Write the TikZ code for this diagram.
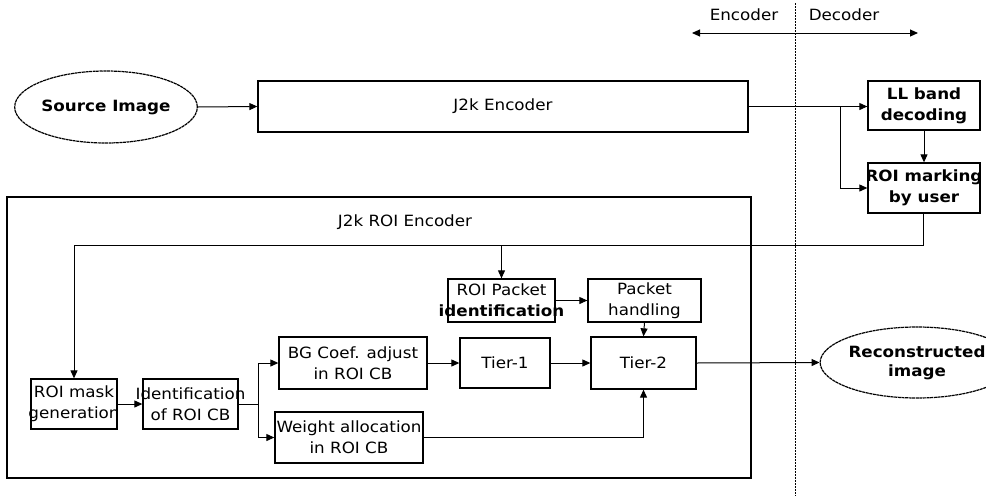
\documentclass[tikz,border=0pt]{standalone}
\usepackage{fontspec}
\setmainfont{DejaVu Sans}[FakeStretch=1.08]
\usetikzlibrary{arrows.meta,shapes.geometric,calc}

\tikzset{
  base/.style={font=\fontsize{15.5}{21}\selectfont, inner sep=0pt},
  blk/.style={base, draw, line width=1.3pt, minimum width=#1},
  oval/.style={base, ellipse, draw, line width=1.2pt, dash pattern=on 3pt off 0.6pt, font=\fontsize{15.5}{19}\selectfont\bfseries, align=center},
  txt/.style={label={[base, align=center]center:#1}},
  tip/.style={Triangle[length=8pt,width=7pt]},
  conn/.style={line width=1pt, -{Triangle[length=8pt,width=7pt]}},
  plain/.style={line width=1pt},
}

\begin{document}
\begin{tikzpicture}[x=1pt, y=-1pt]
\useasboundingbox (0,0) rectangle (986,496);

% top-level encoder path
\node[oval, minimum width=151pt, minimum height=72pt] (src) at (106,107) {Source Image};
\node[blk=490pt, minimum height=51pt] (j2k) at (503,106.5) {J2k Encoder};

% decoder side
\node[blk=112pt, minimum height=49pt, txt={\bfseries LL band\\\bfseries decoding}] (ll) at (924,105.5) {};
\node[blk=112pt, minimum height=50pt, txt={\bfseries ROI marking\\\bfseries by user}] (mark) at (924,188) {};

% ROI encoder frame and title
\node[draw, line width=1.3pt, minimum width=744pt, minimum height=281pt, inner sep=0pt] (frame) at (379,337.5) {};
\node[base] (title) at (405,222) {J2k ROI Encoder};

% ROI encoder blocks
\node[blk=86pt,  minimum height=50pt, txt={ROI mask\\generation}] (mask) at (74,404) {};
\node[blk=95pt,  minimum height=50pt, txt={Identification\\of ROI CB}] (ident) at (190.5,404) {};
\node[blk=148pt, minimum height=52pt, txt={BG Coef. adjust\\in ROI CB}] (bg) at (353,363) {};
\node[blk=148pt, minimum height=51pt, txt={Weight allocation\\in ROI CB}] (wt) at (349,437.5) {};
\node[blk=90pt,  minimum height=50pt, txt={Tier-1}] (t1) at (505,363) {};
\node[blk=105pt, minimum height=52pt, txt={Tier-2}] (t2) at (643.5,363) {};
\node[blk=107pt, minimum height=43pt, txt={ROI Packet\\\bfseries identification}] (pid) at (501.5,300.5) {};
\node[blk=113pt, minimum height=43pt, txt={Packet\\handling}] (ph) at (644.5,300.5) {};

\node[oval, minimum width=135pt, minimum height=71pt] (rec) at (917,362.5) {Reconstructed\\image};

% encoder / decoder divide
\coordinate (divtop) at (795,3);
\coordinate (divbot) at (795,496);
\draw[line width=1pt, dash pattern=on 1.5pt off 1.5pt] (divtop) -- (divbot);
\coordinate (encend) at (692,33);
\coordinate (decend) at (918,33);
\draw[line width=1pt, {Triangle[length=8pt,width=7pt]}-{Triangle[length=8pt,width=7pt]}] (encend) -- (decend);
\node[base] (enclbl) at (744,15) {Encoder};
\node[base] (declbl) at (844,15) {Decoder};

% connectors
\draw[conn] (src.east) -- (j2k.west);
\draw[conn] (j2k.east) -- (j2k.east -| ll.west);
\coordinate (split) at (840,106.5);
\draw[conn] (split) |- (mark.west);
\draw[conn] (ll.south) -- (mark.north);

\coordinate (fb) at (923,245);
\coordinate (fbl) at (mask.north |- fb);
\coordinate (fbp) at (pid.north |- fb);
\draw[plain] (mark.south -| fb) -- (fb) -- (fbl);
\draw[conn] (fbl) -- (mask.north);
\draw[conn] (fbp) -- (pid.north);

\draw[conn] (pid.east) -- (ph.west);
\draw[conn] (ph.south) -- (t2.north);
\draw[conn] (t1.east) -- (t2.west);
\draw[conn] (bg.east) -- (t1.west);
\draw[conn] (wt.east) -| (t2.south);
\draw[conn] (mask.east) -- (ident.west);

\coordinate (fork) at (258,404);
\draw[plain] (ident.east) -- (fork);
\draw[conn] (fork) |- (bg.west);
\draw[conn] (fork) |- (wt.west);

\draw[conn] (t2.east) -- (rec.west);
\end{tikzpicture}
\end{document}
